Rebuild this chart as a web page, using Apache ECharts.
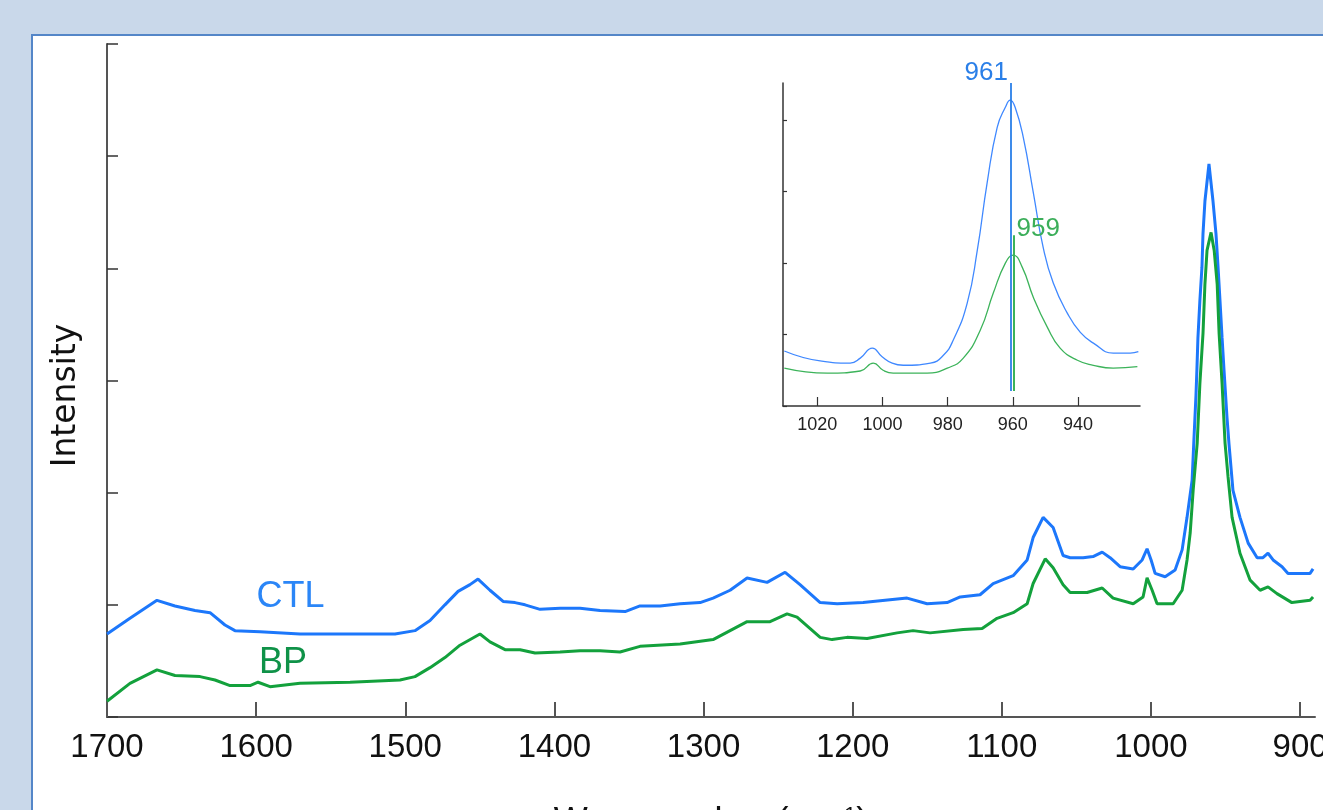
<!DOCTYPE html>
<html>
<head>
<meta charset="utf-8">
<script src="https://cdn.jsdelivr.net/npm/echarts@6/dist/echarts.min.js"></script>
<style>
  html, body { margin: 0; padding: 0; width: 1323px; height: 810px; overflow: hidden; background: #c9d8ea; }
  #panel { position: absolute; left: 31px; top: 34px; width: 1400px; height: 900px; background: #ffffff; border-left: 2px solid #5486c8; border-top: 2px solid #5486c8; }
  #chart { position: absolute; left: 0; top: 0; width: 1323px; height: 810px; }
</style>
</head>
<body>
<div id="panel"></div>
<div id="chart"></div>
<script>
// ---- Main spectrum (wavenumber in cm-1, intensity in arbitrary units) ----
const ctlWavenumber = [1700.0,1684.6,1666.5,1654.4,1641.0,1630.9,1620.9,1614.2,1597.4,1570.6,1537.0,1506.9,1493.5,1483.4,1473.4,1464.6,1456.6,1451.2,1443.2,1434.4,1426.4,1419.7,1409.6,1396.2,1382.8,1369.4,1352.6,1342.6,1329.1,1315.7,1302.3,1293.6,1282.2,1270.8,1257.4,1245.3,1235.3,1221.8,1210.4,1193.0,1163.5,1150.1,1136.7,1127.9,1114.6,1105.8,1092.4,1083.0,1079.0,1072.3,1065.6,1058.9,1054.2,1045.5,1038.8,1032.7,1027.4,1020.7,1011.9,1005.9,1002.6,999.9,997.2,990.5,983.8,979.1,975.8,972.4,971.2,969.8,969.2,968.5,967.2,965.8,965.1,963.8,961.1,958.4,956.4,955.0,953.7,952.3,951.0,949.0,947.7,945.0,940.3,934.8,928.8,924.9,921.5,918.1,912.1,908.1,893.3,891.3];
const ctlIntensity  = [0.74,0.88,1.04,0.99,0.95,0.93,0.82,0.77,0.76,0.74,0.74,0.74,0.77,0.86,1.00,1.12,1.18,1.23,1.13,1.03,1.02,1.00,0.96,0.97,0.97,0.95,0.94,0.99,0.99,1.01,1.02,1.06,1.13,1.24,1.20,1.29,1.18,1.02,1.01,1.02,1.06,1.01,1.02,1.07,1.09,1.19,1.26,1.40,1.60,1.78,1.69,1.44,1.42,1.42,1.43,1.47,1.42,1.34,1.32,1.40,1.50,1.40,1.28,1.25,1.31,1.49,1.78,2.11,2.47,2.87,3.09,3.38,3.71,4.01,4.31,4.60,4.93,4.60,4.31,4.01,3.71,3.38,3.09,2.67,2.44,2.02,1.78,1.55,1.42,1.42,1.46,1.40,1.34,1.28,1.28,1.32];

const bpWavenumber = [1700.0,1684.6,1666.5,1654.4,1637.6,1627.6,1617.5,1604.1,1598.7,1590.7,1570.6,1537.0,1503.5,1493.5,1483.4,1473.4,1463.3,1449.9,1443.2,1433.1,1423.0,1413.0,1396.2,1382.8,1369.4,1356.0,1342.6,1315.7,1293.6,1270.8,1255.4,1244.0,1237.3,1221.8,1213.8,1203.8,1190.3,1170.2,1159.5,1148.1,1125.9,1113.2,1103.2,1092.4,1083.0,1079.0,1070.9,1065.6,1058.9,1054.2,1042.8,1032.7,1025.4,1011.9,1005.3,1002.6,999.2,995.9,985.1,979.1,975.8,973.7,971.7,969.0,967.2,965.1,963.8,962.4,959.7,957.6,955.6,954.3,952.3,950.3,948.3,945.6,940.3,933.5,926.8,921.5,915.5,905.5,893.3,891.3];
const bpIntensity  = [0.14,0.30,0.42,0.37,0.36,0.33,0.28,0.28,0.31,0.27,0.30,0.31,0.33,0.36,0.44,0.53,0.64,0.74,0.67,0.60,0.60,0.57,0.58,0.59,0.59,0.58,0.63,0.65,0.69,0.85,0.85,0.92,0.89,0.71,0.69,0.71,0.70,0.75,0.77,0.75,0.78,0.79,0.88,0.93,1.01,1.19,1.41,1.33,1.18,1.11,1.11,1.15,1.06,1.01,1.07,1.24,1.13,1.01,1.01,1.13,1.40,1.64,2.02,2.44,2.97,3.42,3.86,4.16,4.32,4.16,3.86,3.42,2.97,2.44,2.14,1.78,1.46,1.22,1.13,1.16,1.10,1.02,1.04,1.07];

// ---- Inset (zoom on the phosphate band) ----
const insetCtlWavenumber = [1030.1,1019.1,1009.9,1006.8,1003.1,1000.1,997.0,993.6,985.3,981.3,978.3,974.0,970.9,967.9,964.8,962.3,960.8,959.3,956.8,953.7,950.7,947.6,943.3,939.3,935.3,929.2,924.0,921.5];
const insetCtlIntensity  = [0.77,0.63,0.60,0.67,0.81,0.69,0.60,0.57,0.60,0.71,0.92,1.44,2.18,3.12,3.90,4.18,4.28,4.18,3.76,2.98,2.22,1.72,1.30,1.03,0.88,0.74,0.74,0.76];
const insetBpWavenumber = [1030.1,1016.9,1006.8,1002.8,999.8,996.7,986.3,980.1,975.2,970.0,966.0,962.3,959.9,957.1,953.7,949.4,945.5,940.2,935.3,929.2,921.8];
const insetBpIntensity  = [0.53,0.46,0.49,0.60,0.50,0.46,0.46,0.53,0.67,1.06,1.58,2.00,2.11,1.94,1.52,1.10,0.81,0.64,0.57,0.53,0.55];

// Peak annotations: label text, drawn line position, line extent
const peakLabels = ['961', '959'];
const peakLinePos = [960.6, 959.8];
const peakLineBottom = [0.21, 0.21];
const peakLineTop = [4.52, 2.39];

const mainTicksX = [1700,1600,1500,1400,1300,1200,1100,1000,900];
const insetTicksX = [1020,1000,980,960,940];
const insetTicksY = [0,1,2,3,4];

const seriesNames = ['CTL', 'BP'];
const labelPos = [[1577, 1.07], [1582, 0.48]];

const pairs = (xs, ys) => xs.map((x, i) => [x, ys[i]]);
const plain = v => String(v);

const BLUE = '#1c77fb';
const GREEN = '#13a13c';
const FONT = '"Liberation Sans", Arial, sans-serif';

const chart = echarts.init(document.getElementById('chart'), null, { renderer: 'canvas' });
chart.setOption({
  animation: false,
  backgroundColor: 'transparent',
  grid: [
    { left: 107, top: 44, right: 8, bottom: 93, containLabel: false, outerBoundsMode: 'none' },
    { left: 783, top: 83, right: 183, bottom: 404, containLabel: false, outerBoundsMode: 'none' }
  ],
  xAxis: [
    {
      gridIndex: 0, type: 'value', min: 890, max: 1700, inverse: true,
      name: 'Wavenumber (cm{sup|-1})', nameLocation: 'middle', nameGap: 88,
      nameTextStyle: { fontFamily: FONT, fontSize: 36, color: '#111',
        rich: { sup: { fontFamily: FONT, fontSize: 22, verticalAlign: 'top', color: '#111', padding: [0,0,14,0] } } },
      axisLine: { show: true, onZero: false, lineStyle: { color: '#555', width: 2 } },
      axisTick: { show: true, inside: true, length: 15, customValues: mainTicksX, lineStyle: { color: '#555', width: 2 } },
      axisLabel: { customValues: mainTicksX, formatter: plain, fontFamily: FONT, fontSize: 33, color: '#111', margin: 14 },
      splitLine: { show: false }
    },
    {
      gridIndex: 1, type: 'value', min: 921, max: 1030.5, inverse: true,
      axisLine: { show: true, onZero: false, lineStyle: { color: '#333', width: 1.5 } },
      axisTick: { show: true, inside: true, length: 9, customValues: insetTicksX, lineStyle: { color: '#333', width: 1.2 } },
      axisLabel: { customValues: insetTicksX, formatter: plain, fontFamily: FONT, fontSize: 18, color: '#222', margin: 10 },
      splitLine: { show: false }
    }
  ],
  yAxis: [
    {
      gridIndex: 0, type: 'value', min: 0, max: 6, interval: 1,
      name: 'Intensity', nameLocation: 'middle', nameGap: 24, nameRotate: 90,
      nameTextStyle: { fontFamily: 'DejaVu Sans', fontSize: 33, color: '#111', padding: [0, 30, 0, 0] },
      axisLine: { show: true, onZero: false, lineStyle: { color: '#555', width: 2 } },
      axisTick: { show: true, inside: true, length: 11, lineStyle: { color: '#333', width: 1.5 } },
      axisLabel: { show: false },
      splitLine: { show: false }
    },
    {
      gridIndex: 1, type: 'value', min: 0, max: 4.52,
      axisLine: { show: true, onZero: false, lineStyle: { color: '#333', width: 1.5 } },
      axisTick: { show: true, inside: true, length: 4, customValues: insetTicksY, lineStyle: { color: '#333', width: 1.2 } },
      axisLabel: { show: false },
      splitLine: { show: false }
    }
  ],
  series: [
    {
      name: seriesNames[0], type: 'line', xAxisIndex: 0, yAxisIndex: 0,
      data: pairs(ctlWavenumber, ctlIntensity), showSymbol: false, smooth: false,
      lineStyle: { color: BLUE, width: 3 }, silent: true,
      markPoint: { symbol: 'circle', symbolSize: 0, silent: true,
        data: [{ coord: labelPos[0], label: { show: true, position: 'inside', formatter: seriesNames[0],
          fontFamily: FONT, fontSize: 36, color: '#2b86f7' } }] }
    },
    {
      name: seriesNames[1], type: 'line', xAxisIndex: 0, yAxisIndex: 0,
      data: pairs(bpWavenumber, bpIntensity), showSymbol: false, smooth: false,
      lineStyle: { color: GREEN, width: 3 }, silent: true,
      markPoint: { symbol: 'circle', symbolSize: 0, silent: true,
        data: [{ coord: labelPos[1], label: { show: true, position: 'inside', formatter: seriesNames[1],
          fontFamily: FONT, fontSize: 36, color: '#0f9248' } }] }
    },
    {
      name: 'CTL inset', type: 'line', xAxisIndex: 1, yAxisIndex: 1,
      data: pairs(insetCtlWavenumber, insetCtlIntensity), showSymbol: false, smooth: true,
      lineStyle: { color: '#3f88ff', width: 1.3 }, silent: true,
      markLine: { symbol: 'none', silent: true, label: { show: false },
        lineStyle: { color: '#2a7fe8', width: 1.8, type: 'solid' },
        data: [[{ coord: [peakLinePos[0], peakLineBottom[0]] }, { coord: [peakLinePos[0], peakLineTop[0]] }]] },
      markPoint: { symbol: 'circle', symbolSize: 0, silent: true,
        data: [{ coord: [peakLinePos[0], peakLineTop[0]], label: { show: true, position: 'insideRight', offset: [2, -10],
          formatter: peakLabels[0], fontFamily: FONT, fontSize: 26, color: '#2a7fe8' } }] }
    },
    {
      name: 'BP inset', type: 'line', xAxisIndex: 1, yAxisIndex: 1,
      data: pairs(insetBpWavenumber, insetBpIntensity), showSymbol: false, smooth: true,
      lineStyle: { color: '#3cb35a', width: 1.3 }, silent: true,
      markLine: { symbol: 'none', silent: true, label: { show: false },
        lineStyle: { color: '#3cb35a', width: 2, type: 'solid' },
        data: [[{ coord: [peakLinePos[1], peakLineBottom[1]] }, { coord: [peakLinePos[1], peakLineTop[1]] }]] },
      markPoint: { symbol: 'circle', symbolSize: 0, silent: true,
        data: [{ coord: [peakLinePos[1], peakLineTop[1]], label: { show: true, position: 'insideLeft', offset: [-2, -6],
          formatter: peakLabels[1], fontFamily: FONT, fontSize: 26, color: '#3cae5a' } }] }
    }
  ]
});
</script>
</body>
</html>
